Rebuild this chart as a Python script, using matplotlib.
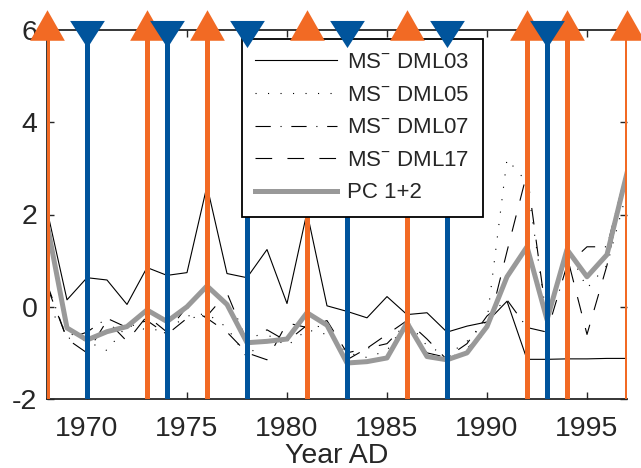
import numpy as np
import matplotlib
matplotlib.use('Agg')
import matplotlib.pyplot as plt

plt.rcParams['font.family'] = ['Liberation Sans', 'DejaVu Sans']
plt.rcParams['mathtext.fontset'] = 'custom'
plt.rcParams['mathtext.rm'] = 'Liberation Sans'
plt.rcParams['mathtext.default'] = 'regular'
plt.rcParams['axes.unicode_minus'] = False
plt.rcParams['lines.scale_dashes'] = False

years = np.arange(1968, 1998)

dml03 = [2.1, 0.15, 0.63, 0.58, 0.05, 0.85, 0.68, 0.74, 2.62, 0.72,
         0.63, 1.24, 0.07, 2.05, 0.02, -0.1, -0.24, 0.22, -0.17, -0.13,
         -0.55, -0.42, -0.33, 0.12, -1.14, -1.14, -1.13, -1.13, -1.12, -1.12]
dml05 = [0.0, -0.55, -0.75, -0.95, -0.4, -0.5, -0.5, -0.2, -0.15, -0.45,
         -1.1, -0.6, -0.85, -0.5, -0.6, -1.0, -1.1, -0.95, -0.3, -0.85,
         -1.05, -0.75, -0.3, 3.2, 2.7, -0.3, 1.3, 0.4, 0.9, 2.5]
dml07 = [0.5, -0.7, -0.55, -0.25, -0.45, -0.3, -0.6, -0.25, -0.2, 0.3,
         -0.75, -0.5, -0.75, -0.4, -0.45, -1.15, -0.9, -0.8, -0.35, -1.0,
         -1.1, -0.8, -0.2, 0.15, -0.45, -0.55, 0.9, 1.3, 1.3, 3.0]
dml17 = [0.45, -0.7, -1.0, -0.3, -0.75, -0.2, -0.55, 0.0, -0.25, -0.55,
         -1.0, -1.15, -0.35, -0.45, -0.3, -1.0, -0.9, -0.6, -0.3, -0.7,
         -1.15, -0.9, -0.55, 1.2, 2.9, -0.3, 1.1, -0.6, 0.9, 3.0]
pc12 = [1.8, -0.46, -0.72, -0.54, -0.43, -0.07, -0.32, 0.0, 0.45, 0.05,
        -0.78, -0.75, -0.7, -0.13, -0.4, -1.22, -1.19, -1.11, -0.35, -1.08,
        -1.15, -1.0, -0.43, 0.65, 1.3, -0.28, 1.24, 0.65, 1.13, 2.9]

# event years (orange = up, blue = down)
up_years = [1968, 1973, 1976, 1981, 1986, 1992, 1994, 1997]
down_years = [1970, 1974, 1978, 1983, 1988, 1993]

orange = '#F26A24'
blue = '#00549C'
txt = '#262626'

fig = plt.figure(figsize=(6.41, 4.68), dpi=100)
ax = fig.add_axes([47 / 641, 69 / 468, 580 / 641, 369 / 468])

ax.plot(years, dml03, color='black', lw=0.8, label='MS$^{-}$ DML03')
ax.plot(years, dml05, color='black', lw=0.8, dashes=(0.8, 8.2), label='MS$^{-}$ DML05')
ax.plot(years, dml07, color='black', lw=0.8, dashes=(11, 7, 0.8, 7), label='MS$^{-}$ DML07')
ax.plot(years, dml17, color='black', lw=0.8, dashes=(12, 11), label='MS$^{-}$ DML17')
ax.plot(years, pc12, color='#999999', lw=3.6, label='PC 1+2')

ax.vlines(up_years, -2, 6, colors=orange, lw=3.6, zorder=2.6)
ax.vlines(down_years, -2, 6, colors=blue, lw=3.6, zorder=2.6)

tri_up = [(-1, -0.88), (1, -0.88), (0, 0.88), (-1, -0.88)]
tri_down = [(-1, 0.78), (1, 0.78), (0, -0.78), (-1, 0.78)]
ax.plot(up_years, [6.1] * len(up_years), ls='none', marker=tri_up, ms=25,
        mew=0, color=orange, clip_on=False, zorder=6)
ax.plot(down_years, [5.92] * len(down_years), ls='none', marker=tri_down, ms=25,
        mew=0, color=blue, clip_on=False, zorder=6.5)

ax.set_xlim(1968, 1997)
ax.set_ylim(-2, 6)
ax.set_xticks(range(1970, 1996, 5))
ax.set_yticks(range(-2, 7, 2))
ax.tick_params(direction='in', length=5, width=1, top=True, right=True,
               labelsize=20.5, colors=txt, pad=7)
ax.tick_params(axis='x', pad=12)
for side in ['left', 'bottom', 'top']:
    ax.spines[side].set_linewidth(1.3)
    ax.spines[side].set_color(txt)
ax.spines['right'].set_visible(False)

ax.set_xlabel('Year AD', fontsize=20.5, color=txt, labelpad=1)

leg = ax.legend(loc='upper left', bbox_to_anchor=(0.336, 0.976), fontsize=16,
                handlelength=3.7, handletextpad=0.45, labelspacing=0.52,
                borderpad=0.6, borderaxespad=0, fancybox=False,
                framealpha=1, edgecolor='black')
leg.get_frame().set_linewidth(1.3)
for t in leg.get_texts():
    t.set_color(txt)

plt.savefig('out.png', dpi=100)
